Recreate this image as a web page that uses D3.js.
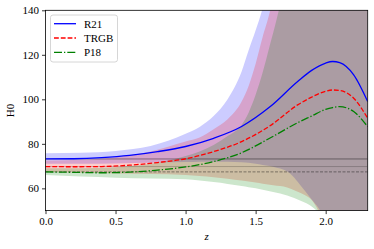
<!DOCTYPE html>
<html><head><meta charset="utf-8">
<script src="https://cdn.jsdelivr.net/npm/d3@7"></script>
<style>body{margin:0;background:#fff}svg{display:block}text{font-family:"Liberation Serif","DejaVu Serif",serif}</style>
</head><body><svg id="c" width="374" height="249"></svg>
<script>
// ---- data ----
const seriesNames = ["R21", "TRGB", "P18"];
const refH0 = [73.2, 69.8, 67.4];
const xTicks = [0.0, 0.5, 1.0, 1.5, 2.0];
const yTicks = [60, 80, 100, 120, 140];

const meanZ = [0, 0.2, 0.4, 0.6, 0.8, 1.0, 1.2, 1.4, 1.6, 1.8, 1.9, 2.0, 2.05, 2.1, 2.2, 2.3];
const meanR21 = [73.2, 73.3, 73.8, 74.8, 76.5, 78.8, 82.5, 87.8, 96.5, 108, 113, 116.3, 117, 116.5, 111, 99];
const meanTRGB = [69.8, 69.7, 69.8, 70.4, 71.6, 73.3, 76.5, 81.0, 88.0, 97.5, 101, 103.6, 104.2, 104.0, 100.5, 91.5];
const meanP18 = [67.4, 67.2, 67.0, 67.3, 68.2, 69.6, 72.0, 76.0, 82.5, 89.5, 92.5, 95.5, 96.3, 96.7, 94.5, 87.7];

const bandZ = [0, 0.25, 0.5, 0.75, 1.0, 1.1, 1.2, 1.3, 1.4, 1.45, 1.5, 1.55, 1.6, 1.65, 1.7, 1.75, 1.8, 1.85, 1.9, 1.95, 2.0, 2.3];
const upR21 = [75.8, 76.0, 76.8, 79.0, 84.5, 87.6, 92.5, 100, 112.5, 122, 131, 141, 155, 175, 200, 230, 260, 290, 320, 350, 380, 400];
const loR21 = [71.0, 71.0, 71.2, 71.5, 71.8, 72.0, 72.0, 72.0, 71.7, 71.5, 71.0, 70.5, 70.0, 69.2, 68.3, 66.5, 63.0, 59.0, 55.0, 51.0, 45, -100];
const upTRGB = [72.5, 72.8, 74.0, 76.5, 81.0, 82.8, 86.5, 91.0, 99.0, 106, 116, 128, 139, 155, 175, 200, 230, 260, 290, 320, 350, 400];
const loTRGB = [67.3, 67.0, 66.7, 66.4, 66.0, 65.5, 65.0, 64.3, 63.5, 63.1, 62.6, 62.1, 61.6, 61.2, 60.8, 59.8, 58.5, 57.0, 54.8, 49.5, 40, -100];
const upP18 = [69.0, 69.0, 69.5, 71.0, 74.5, 76.5, 79.5, 83.5, 88.5, 94, 102, 112, 124, 136, 150, 170, 200, 230, 260, 290, 320, 400];
const loP18 = [66.0, 65.3, 64.8, 64.4, 64.1, 63.5, 62.8, 62.0, 61.0, 60.5, 60.0, 59.4, 58.7, 58.0, 57.2, 56.2, 55.0, 53.6, 51.8, 48.5, 40, -100];

const colors = ["#0000ff", "#ff0000", "#008000"];
const dashes = [null, "4.8,2", "8,2,1.3,2"];
const refDash = [null, "1,1", "3,1.5"];

// ---- layout ----
const svg = d3.select("#c");
const L = 45.5, R = 367.7, T = 10.3, B = 210.6;
const x = d3.scaleLinear().domain([0, 2.3]).range([L, R]);
const y = d3.scaleLinear().domain([50, 140]).range([B, T]);

svg.append("defs").append("clipPath").attr("id", "clip")
  .append("rect").attr("x", L).attr("y", T).attr("width", R - L).attr("height", B - T);
const g = svg.append("g").attr("clip-path", "url(#clip)");

const bands = [[upR21, loR21], [upTRGB, loTRGB], [upP18, loP18]];
bands.forEach((b, i) => {
  const area = d3.area().x((d, j) => x(bandZ[j])).y0((d, j) => y(b[1][j])).y1((d, j) => y(b[0][j])).curve(d3.curveMonotoneX);
  g.append("path").attr("d", area(bandZ)).attr("fill", colors[i]).attr("fill-opacity", 0.2);
});

refH0.forEach((v, i) => {
  g.append("line").attr("x1", L).attr("x2", R).attr("y1", y(v)).attr("y2", y(v))
    .attr("stroke", "#000").attr("stroke-opacity", 0.45).attr("stroke-width", 0.9)
    .attr("stroke-dasharray", refDash[i]);
});

const means = [meanR21, meanTRGB, meanP18];
means.forEach((m, i) => {
  const line = d3.line().x((d, j) => x(meanZ[j])).y(d => y(d)).curve(d3.curveMonotoneX);
  g.append("path").attr("d", line(m)).attr("fill", "none").attr("stroke", colors[i])
    .attr("stroke-width", 1.3).attr("stroke-dasharray", dashes[i]);
});

// ---- axes ----
const fs = "11px";
const xa = svg.append("g").attr("transform", `translate(0,${B})`)
  .call(d3.axisBottom(x).tickValues(xTicks).tickFormat(d3.format(".1f")).tickSize(3.5).tickPadding(3));
const ya = svg.append("g").attr("transform", `translate(${L},0)`)
  .call(d3.axisLeft(y).tickValues(yTicks).tickSize(3.5).tickPadding(3));
[xa, ya].forEach(a => {
  a.select(".domain").remove();
  a.selectAll("line").attr("stroke", "#000").attr("stroke-width", 0.8);
  a.selectAll("text").attr("font-size", fs).attr("fill", "#000").style("font-family", '"Liberation Serif",serif');
});
svg.append("rect").attr("x", L).attr("y", T).attr("width", R - L).attr("height", B - T)
  .attr("fill", "none").attr("stroke", "#000").attr("stroke-width", 0.8);

svg.append("text").attr("x", (L + R) / 2).attr("y", 240).attr("text-anchor", "middle")
  .attr("font-size", "11px").attr("font-style", "italic").text("z");
svg.append("text").attr("transform", `translate(14,${(T + B) / 2}) rotate(-90)`).attr("text-anchor", "middle")
  .attr("font-size", "11px").text("H0");

// ---- legend ----
const lg = svg.append("g");
lg.append("rect").attr("x", 50.5).attr("y", 15).attr("width", 67).attr("height", 47).attr("rx", 2.5)
  .attr("fill", "#fff").attr("fill-opacity", 0.8).attr("stroke", "#ccc").attr("stroke-width", 0.8);
seriesNames.forEach((n, i) => {
  const yy = 23.7 + i * 14.3;
  lg.append("line").attr("x1", 54).attr("x2", 76).attr("y1", yy).attr("y2", yy)
    .attr("stroke", colors[i]).attr("stroke-width", 1.3).attr("stroke-dasharray", dashes[i]);
  lg.append("text").attr("x", 84).attr("y", yy + 3.8).attr("font-size", "11px").text(n);
});
</script></body></html>
